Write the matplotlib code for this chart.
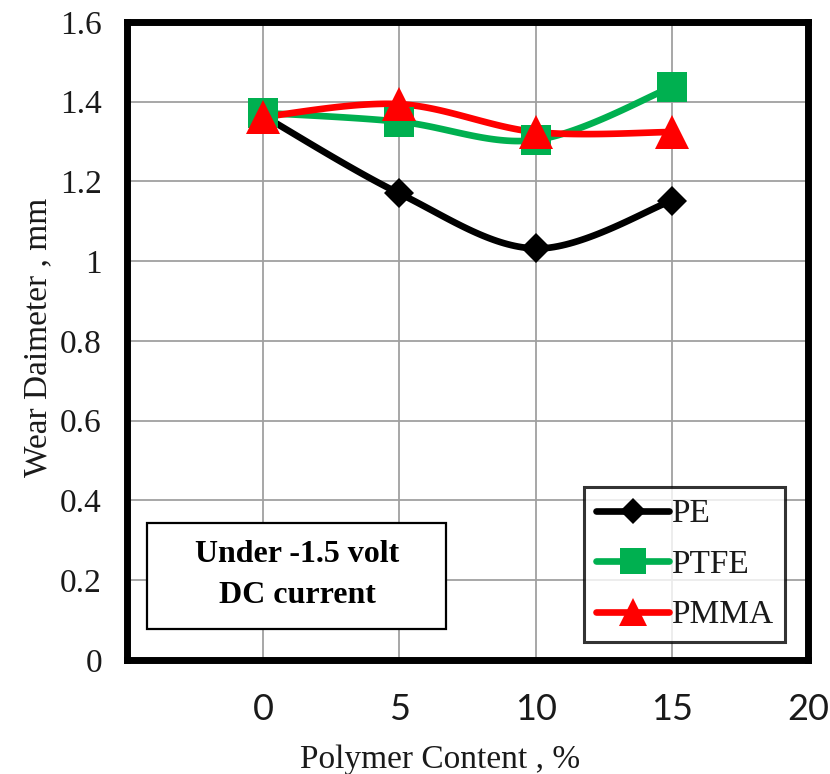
import numpy as np
import matplotlib
matplotlib.use("Agg")
import matplotlib.pyplot as plt
from matplotlib.lines import Line2D
from matplotlib.patches import Rectangle

# ---- data ----
x_content = [0, 5, 10, 15]
pe = [1.365, 1.17, 1.032, 1.152]
ptfe = [1.372, 1.350, 1.304, 1.437]
pmma = [1.362, 1.394, 1.324, 1.324]
series_names = ["PE", "PTFE", "PMMA"]
x_ticks = [0, 5, 10, 15, 20]
y_ticks = [0, 0.2, 0.4, 0.6, 0.8, 1.0, 1.2, 1.4, 1.6]
y_tick_labels = ["0", "0.2", "0.4", "0.6", "0.8", "1", "1.2", "1.4", "1.6"]


def smooth(xs, ys, n=40):
    """Excel-like smoothed line (Catmull-Rom Bezier) through the points."""
    P = np.column_stack([xs, ys]).astype(float)
    out = [P[0]]
    m = len(P)
    for i in range(m - 1):
        p0 = P[i - 1] if i > 0 else P[i]
        p1 = P[i]
        p2 = P[i + 1]
        p3 = P[i + 2] if i + 2 < m else P[i + 1]
        c1 = p1 + (p2 - p0) / 6.0
        c2 = p2 - (p3 - p1) / 6.0
        t = np.linspace(0, 1, n)[1:, None]
        seg = ((1 - t) ** 3) * p1 + 3 * ((1 - t) ** 2) * t * c1 + 3 * (1 - t) * t ** 2 * c2 + t ** 3 * p2
        out.extend(seg)
    out = np.array(out)
    return out[:, 0], out[:, 1]


serif = ["Liberation Serif", "DejaVu Serif"]
sans = ["Lato", "DejaVu Sans"]
txt_color = "#1a1a1a"

fig = plt.figure(figsize=(8.3, 7.74), dpi=100)
ax = fig.add_axes([0.153, 0.1473, 0.8205, 0.8243])

colors = ["#000000", "#00B050", "#FF0000"]
markers = ["D", "s", "^"]
msizes = [15, 22, 24]
lw = 4.8
for vals, c, mk, ms, name in zip([pe, ptfe, pmma], colors, markers, msizes, series_names):
    sx, sy = smooth(x_content, vals)
    ax.plot(sx, sy, color=c, lw=lw, solid_capstyle="round", zorder=3)
    ax.plot(x_content, vals, linestyle="none", marker=mk, markersize=ms, color=c,
            markeredgewidth=0, zorder=4)

ax.set_xlim(-5, 20)
ax.set_ylim(0, 1.6)
ax.set_xticks(x_ticks)
ax.set_yticks(y_ticks)
ax.set_yticklabels(y_tick_labels)
ax.grid(True, color="#a0a0a0", lw=1.3, zorder=0)
ax.set_axisbelow(True)
ax.tick_params(axis="both", length=0)
ax.tick_params(axis="x", pad=24)
ax.tick_params(axis="y", pad=18)
for lab in ax.get_xticklabels():
    lab.set_fontfamily(sans)
    lab.set_fontsize(26)
    lab.set_color(txt_color)
for lab in ax.get_yticklabels():
    lab.set_fontfamily(serif)
    lab.set_fontsize(24)
    lab.set_color(txt_color)
for s in ax.spines.values():
    s.set_linewidth(5)
    s.set_color("black")

ax.set_xlabel("Polymer Content , %", fontfamily=serif, fontsize=24, color=txt_color)
ax.set_ylabel("Wear Daimeter , mm", fontfamily=serif, fontsize=24, color=txt_color)
ax.xaxis.set_label_coords(0.46, -0.132)
ax.yaxis.set_label_coords(-0.108, 0.505)

handles = [Line2D([0], [0], color=c, lw=lw, marker=mk, markersize=ms * 0.85, markeredgewidth=0,
                  solid_capstyle="round")
           for c, mk, ms in zip(colors, markers, msizes)]
leg = ax.legend(handles, series_names, loc="lower right", bbox_to_anchor=(0.966, 0.028),
                prop={"family": serif, "size": 24}, frameon=True, fancybox=False,
                edgecolor="black", handlelength=2.2, handletextpad=0.05,
                labelspacing=0.6, borderpad=0.35, borderaxespad=0)
leg.get_frame().set_linewidth(2.2)
for t in leg.get_texts():
    t.set_color(txt_color)

ax.text(0.25, 0.133, "Under -1.5 volt\nDC current", transform=ax.transAxes,
        ha="center", va="center", fontfamily=serif, fontsize=23, fontweight="bold",
        linespacing=1.55, zorder=6)
ax.add_patch(Rectangle((0.029, 0.0486), 0.439, 0.166, transform=ax.transAxes,
                       facecolor="white", edgecolor="black", lw=1.6, zorder=5))

fig.savefig("out.png", dpi=100)
